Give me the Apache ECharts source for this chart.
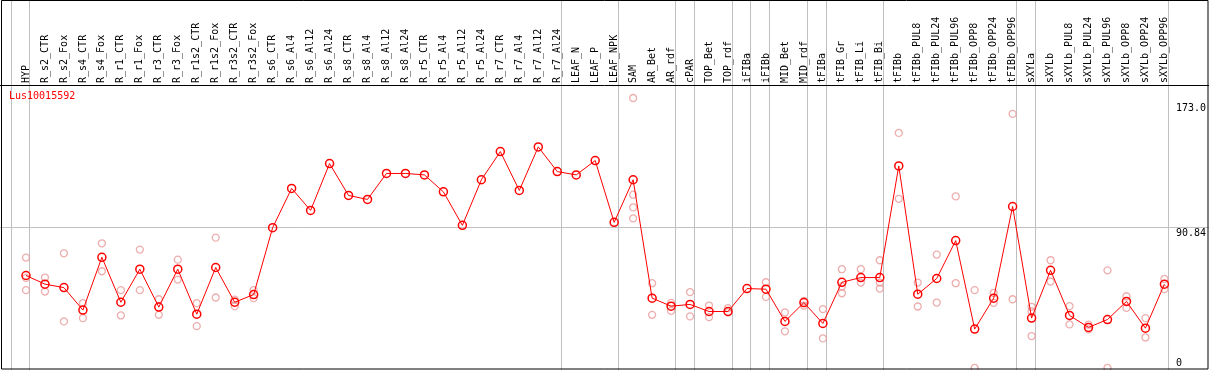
<!DOCTYPE html>
<html><head><meta charset="utf-8">
<script src="https://cdn.jsdelivr.net/npm/echarts@6/dist/echarts.min.js"></script>
<style>html,body{margin:0;padding:0;background:#fff}#c{width:1209px;height:370px}</style>
</head><body><div id="c"></div>
<script>
const chartTitle = 'Lus10015592';
const categories = ['HYP','R_s2_CTR','R_s2_Fox','R_s4_CTR','R_s4_Fox','R_r1_CTR','R_r1_Fox','R_r3_CTR','R_r3_Fox','R_r1s2_CTR','R_r1s2_Fox','R_r3s2_CTR','R_r3s2_Fox','R_s6_CTR','R_s6_Al4','R_s6_Al12','R_s6_Al24','R_s8_CTR','R_s8_Al4','R_s8_Al12','R_s8_Al24','R_r5_CTR','R_r5_Al4','R_r5_Al12','R_r5_Al24','R_r7_CTR','R_r7_Al4','R_r7_Al12','R_r7_Al24','LEAF_N','LEAF_P','LEAF_NPK','SAM','AR_Bet','AR_rdf','cPAR','TOP_Bet','TOP_rdf','iFIBa','iFIBb','MID_Bet','MID_rdf','tFIBa','tFIB_Gr','tFIB_Li','tFIB_Bi','tFIBb','tFIBb_PUL8','tFIBb_PUL24','tFIBb_PUL96','tFIBb_OPP8','tFIBb_OPP24','tFIBb_OPP96','sXYLa','sXYLb','sXYLb_PUL8','sXYLb_PUL24','sXYLb_PUL96','sXYLb_OPP8','sXYLb_OPP24','sXYLb_OPP96'];
const meanValues = [60.1,54.6,52.4,38.1,71.7,43.1,64.1,40.0,64.1,35.5,65.2,43.1,48.0,
  90.5,115.5,101.5,131.3,111.0,108.5,125.0,125.0,124.1,113.3,92.0,121.0,138.9,114.2,141.9,126.2,124.1,133.2,93.9,
  121.0,45.7,40.6,41.7,37.2,37.2,51.8,51.4,30.9,42.9,29.6,55.8,58.8,58.8,
  129.8,48.2,58.2,82.3,26.0,45.7,104.0,33.0,63.4,34.7,27.1,32.1,43.6,26.6,54.6];
const N = null;
const rep1 = [71.5,58.8,74.2,42.5,80.6,50.8,76.6,45.0,70.2,42.5,84.2,44.8,50.8,
  N,N,N,N,N,N,N,N,N,N,N,N,N,N,N,N,N,N,N,
  173.0,55.2,42.7,49.5,41.0,39.3,N,55.8,36.6,44.0,38.7,64.1,64.1,69.8,
  150.8,55.6,73.4,110.4,50.8,49.0,162.9,40.2,69.8,40.6,28.8,63.4,46.9,33.0,57.9];
const rep2 = [50.8,49.9,30.9,33.0,62.8,34.7,50.8,35.1,57.5,27.9,46.1,40.6,45.7,
  N,N,N,N,N,N,N,N,N,N,N,N,N,N,N,N,N,N,N,
  111.5,35.1,37.6,34.1,33.6,36.6,N,46.5,24.6,41.0,20.1,48.8,55.6,51.8,
  108.9,40.4,42.9,55.2,1.3,42.7,45.0,21.6,56.3,29.0,25.8,1.3,39.5,20.7,51.4];
const rep3 = [58.6,N,N,N,N,N,N,N,N,N,N,N,N,
  N,N,N,N,N,N,N,N,N,N,N,N,N,N,N,N,N,N,N,
  103.4,N,N,N,N,N,N,N,N,N,N,53.1,N,55.6,
  N,N,N,N,N,N,N,37.2,N,N,N,N,N,N,N];
const rep4 = [N,N,N,N,N,N,N,N,N,N,N,N,N,
  N,N,N,N,N,N,N,N,N,N,N,N,N,N,N,N,N,N,N,
  96.4,N,N,N,N,N,N,N,N,N,N,N,N,N,
  N,N,N,N,N,N,N,N,N,N,N,N,N,N,N];
const yTickValues = [0, 90.84, 173.0];
const yTickLabels = ['0', '90.84', '173.0'];
const yMax = 173.0;
const refLineValue = 90.84;
const groupEnds = [-1, 0, 28, 31, 34, 35, 37, 38, 39, 41, 42, 45, 52, 53, 60];

const FONT = '"DejaVu Sans Mono", monospace';
const chart = echarts.init(document.getElementById('c'), null, {renderer: 'canvas'});
const repData = [];
[rep1, rep2, rep3, rep4].forEach(r => r.forEach((v, i) => { if (v !== null) repData.push([i, v]); }));
const richKeys = ['b', 'm', 't'];

chart.setOption({
  animation: false,
  backgroundColor: '#fff',
  title: {text: chartTitle, left: 9, top: 91, padding: 0,
    textStyle: {color: '#ff0000', fontFamily: FONT, fontSize: 10, fontWeight: 'normal'}},
  grid: {left: 16.5, width: 1159, top: 98, height: 273},
  xAxis: {type: 'category', data: categories, position: 'top', offset: 13, boundaryGap: true,
    axisLine: {show: false}, axisTick: {show: false}, splitLine: {show: false},
    axisLabel: {rotate: 90, interval: 0, margin: 2, fontFamily: FONT, fontSize: 10, color: '#000'}},
  yAxis: {type: 'value', position: 'right', min: 0, max: yMax,
    axisLine: {show: false}, axisTick: {show: false}, splitLine: {show: false},
    axisLabel: {customValues: yTickValues, margin: 2, fontFamily: FONT, fontSize: 10, color: '#000',
      showMinLabel: true, showMaxLabel: true, hideOverlap: false,
      formatter: function (v) {
        const k = yTickValues.findIndex(t => Math.abs(t - v) < 1e-6);
        return k < 0 ? '' : '{' + richKeys[k] + '|' + yTickLabels[k] + '}';
      },
      rich: {
        b: {fontFamily: FONT, fontSize: 10, color: '#000', padding: [0, 0, 14, 0]},
        m: {fontFamily: FONT, fontSize: 10, color: '#000', padding: [13, 0, 0, 0]},
        t: {fontFamily: FONT, fontSize: 10, color: '#000', padding: [21, 0, 0, 0]}
      }}},
  series: [
    {type: 'scatter', data: repData, symbol: 'circle', symbolSize: 7, clip: false, z: 2,
      itemStyle: {color: 'rgba(0,0,0,0)', borderColor: '#e89a9a', borderWidth: 1.3}, silent: true},
    {type: 'line', data: meanValues, symbol: 'circle', symbolSize: 8, showAllSymbol: true, clip: false, z: 3,
      lineStyle: {color: '#ff0000', width: 1},
      itemStyle: {color: 'rgba(0,0,0,0)', borderColor: '#ff0000', borderWidth: 1.5}, silent: true}
  ]
});

function drawDecor() {
  const px0 = chart.convertToPixel({xAxisIndex: 0}, 0);
  const step = chart.convertToPixel({xAxisIndex: 0}, 1) - px0;
  const yRef = chart.convertToPixel({yAxisIndex: 0}, refLineValue);
  const W = 1209, H = 370;
  const els = [];
  groupEnds.forEach(g => {
    const x = Math.floor(px0 + step * g + 4) + 0.5;
    els.push({type: 'line', z: 0, silent: true, shape: {x1: x, y1: 0, x2: x, y2: H},
      style: {stroke: '#c0c0c0', lineWidth: 1}});
  });
  const yr = Math.floor(yRef) + 0.5;
  els.push({type: 'line', z: 0, silent: true, shape: {x1: 0, y1: yr, x2: W, y2: yr}, style: {stroke: '#c0c0c0', lineWidth: 1}});
  els.push({type: 'line', z: 10, silent: true, shape: {x1: 0, y1: 85.5, x2: W, y2: 85.5}, style: {stroke: '#000', lineWidth: 1}});
  els.push({type: 'rect', z: 10, silent: true, shape: {x: 1.5, y: 0.5, width: 1206.5, height: 368.5},
    style: {fill: null, stroke: '#000', lineWidth: 1}});
  chart.setOption({graphic: {elements: els}});
}
drawDecor();
</script>
</body></html>
